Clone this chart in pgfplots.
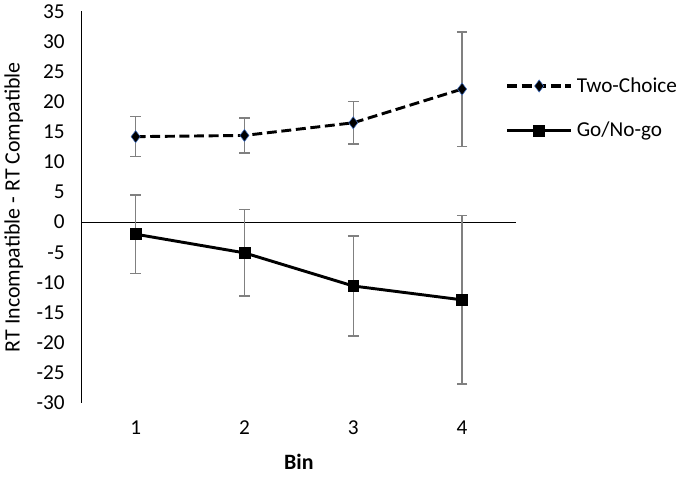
\documentclass[border=0pt]{standalone}
\usepackage{pgfplots}
\pgfplotsset{compat=1.18}
\usepackage{fontspec}
\setmainfont{Carlito}
\definecolor{errgray}{RGB}{128,128,128}
\definecolor{diaedge}{RGB}{68,114,196}

\begin{document}
\begin{tikzpicture}
\begin{axis}[
    scale only axis,
    width=328pt, height=295pt,
    xmin=0.5, xmax=4.5,
    ymin=-30, ymax=35,
    xtick={1,2,3,4},
    ytick={-30,-25,...,35},
    major tick length=0pt,
    axis y line*=left,
    axis x line*=bottom,
    x axis line style={draw=none},
    y axis line style={line width=0.9pt},
    /pgf/number format/assume math mode=true,
    tick label style={font=\fontsize{16}{19}\selectfont},
    yticklabel style={xshift=-9pt},
    xticklabel style={yshift=-10pt},
    extra y ticks={0},
    extra y tick labels={},
    extra y tick style={grid=major, major grid style={black, line width=0.9pt}},
    xlabel={\textbf{Bin}},
    ylabel={RT Incompatible - RT Compatible},
    label style={font=\fontsize{16.5}{19}\selectfont},
    xlabel style={at={(axis description cs:0.5,-0.15)}, anchor=center, inner sep=6pt},
    ylabel style={at={(axis description cs:-0.155,0.5)}, anchor=center},
    legend style={at={(axis description cs:0.965,0.845)}, anchor=north west,
        draw=none, fill=none, row sep=17pt,
        font=\fontsize{16}{19}\selectfont,
        nodes={inner xsep=3pt}},
    legend cell align=left,
    legend image code/.code={
        \draw[line width=2.4pt] (0cm,0cm) -- (1.7cm,0cm);
        \draw plot coordinates {(0.85cm,0cm)};},
    clip=false,
]
\addplot[black, line width=2.2pt, dash pattern=on 7.5pt off 3.5pt,
    mark=diamond*, mark size=4.6pt,
    mark options={solid, fill=black, draw=diaedge, line width=0.4pt},
    error bars/.cd, y dir=both, y explicit,
    error bar style={errgray, line width=1.1pt, solid},
    error mark options={rotate=90, mark size=4pt, errgray, line width=1.1pt}]
    coordinates {
    (1,14.2) +- (0,3.3)
    (2,14.4) +- (0,2.9)
    (3,16.5) +- (0,3.5)
    (4,22.1) +- (0,9.5)
};
\addlegendentry{Two-Choice}
\addplot[black, line width=2.2pt,
    mark=square*, mark size=4.1pt,
    mark options={solid, fill=black, line width=0.4pt},
    error bars/.cd, y dir=both, y explicit,
    error bar style={errgray, line width=1.1pt, solid},
    error mark options={rotate=90, mark size=4pt, errgray, line width=1.1pt}]
    coordinates {
    (1,-2.0) +- (0,6.5)
    (2,-5.1) +- (0,7.2)
    (3,-10.6) +- (0,8.3)
    (4,-12.9) +- (0,14.0)
};
\addlegendentry{Go/No-go}
\end{axis}
\end{tikzpicture}
\end{document}
